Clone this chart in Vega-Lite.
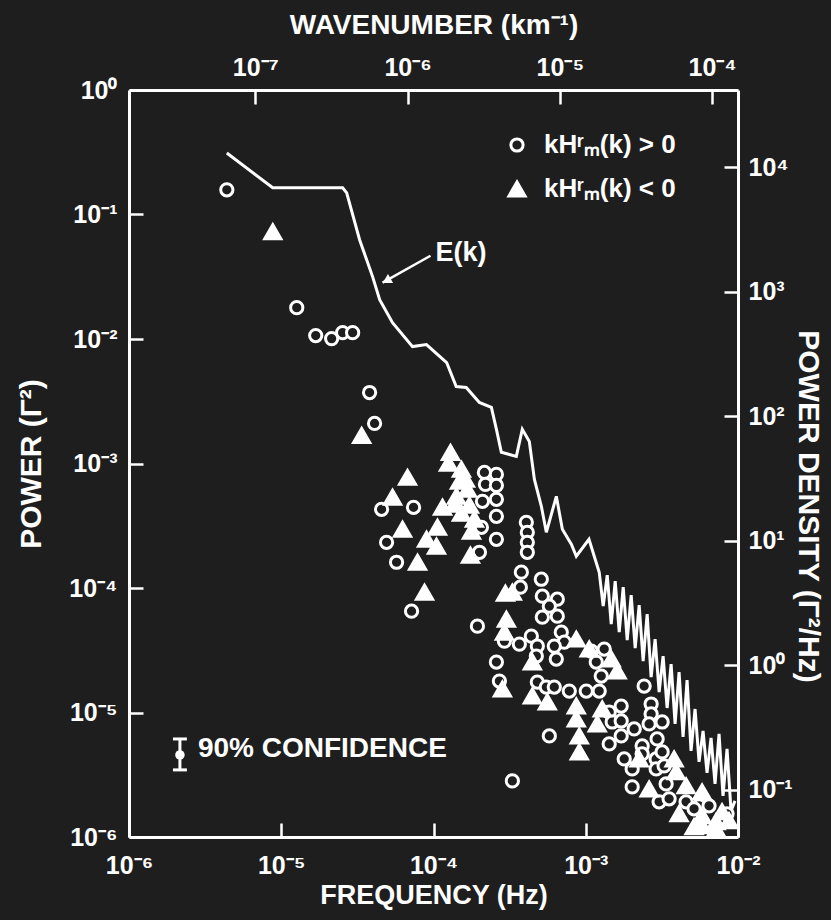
{
  "$schema": "https://vega.github.io/schema/vega-lite/v6.json",
  "width": 609,
  "height": 747,
  "autosize": {"type": "none"},
  "padding": {"left": 129, "top": 90, "right": 93, "bottom": 83},
  "background": "#1e1e1e",
  "config": {
    "view": {"stroke": null},
    "axis": {
      "grid": false,
      "domainColor": "#ffffff",
      "domainWidth": 3,
      "tickColor": "#ffffff",
      "tickWidth": 2.5,
      "tickSize": -14,
      "labelColor": "#ffffff",
      "labelFont": "Liberation Sans",
      "labelFontSize": 25,
      "labelFontWeight": "bold",
      "labelFlush": false,
      "labelOverlap": false,
      "labelBound": false,
      "titleColor": "#ffffff",
      "titleFont": "Liberation Sans",
      "titleFontSize": 27,
      "titleFontWeight": "bold"
    }
  },
  "datasets": {
    "ek": [
      {"f": 4.39e-6, "p": 0.312}, {"f": 8.79e-6, "p": 0.164}, {"f": 2.53e-5, "p": 0.164}, {"f": 2.69e-5, "p": 0.149},
      {"f": 3.27e-5, "p": 0.0627}, {"f": 3.98e-5, "p": 0.0317}, {"f": 4.43e-5, "p": 0.0207}, {"f": 5.38e-5, "p": 0.01354},
      {"f": 7.28e-5, "p": 0.00869}, {"f": 8.99e-5, "p": 0.00902}, {"f": 1.22e-4, "p": 0.00647}, {"f": 1.41e-4, "p": 0.00415},
      {"f": 1.64e-4, "p": 0.00408}, {"f": 2.0e-4, "p": 0.00309}, {"f": 2.4e-4, "p": 0.00282}, {"f": 2.59e-4, "p": 0.00188},
      {"f": 2.79e-4, "p": 0.00123}, {"f": 3.5e-4, "p": 0.00114}, {"f": 3.83e-4, "p": 0.00188}, {"f": 4.26e-4, "p": 0.0015},
      {"f": 4.6e-4, "p": 7.46e-4}, {"f": 5.11e-4, "p": 4.53e-4}, {"f": 5.51e-4, "p": 2.8e-4}, {"f": 6.41e-4, "p": 5.45e-4},
      {"f": 7.02e-4, "p": 2.96e-4}, {"f": 8.04e-4, "p": 2.25e-4}, {"f": 8.67e-4, "p": 1.8e-4}, {"f": 1.05e-3, "p": 2.46e-4},
      {"f": 1.226e-3, "p": 1.339e-4}, {"f": 1.302e-3, "p": 7.145e-5}, {"f": 1.384e-3, "p": 1.267e-4}, {"f": 1.47e-3, "p": 5.125e-5},
      {"f": 1.561e-3, "p": 1.134e-4}, {"f": 1.659e-3, "p": 4.42e-5}, {"f": 1.762e-3, "p": 1.015e-4}, {"f": 1.872e-3, "p": 3.814e-5},
      {"f": 1.988e-3, "p": 8.757e-5}, {"f": 2.112e-3, "p": 3.29e-5}, {"f": 2.243e-3, "p": 7.278e-5}, {"f": 2.382e-3, "p": 2.588e-5},
      {"f": 2.531e-3, "p": 6.164e-5}, {"f": 2.688e-3, "p": 1.926e-5}, {"f": 2.855e-3, "p": 3.885e-5}, {"f": 3.034e-3, "p": 1.46e-5},
      {"f": 3.222e-3, "p": 2.838e-5}, {"f": 3.422e-3, "p": 1.087e-5}, {"f": 3.636e-3, "p": 2.448e-5}, {"f": 3.862e-3, "p": 8.088e-6},
      {"f": 4.102e-3, "p": 2.113e-5}, {"f": 4.357e-3, "p": 6.362e-6}, {"f": 4.629e-3, "p": 1.822e-5}, {"f": 4.917e-3, "p": 4.912e-6},
      {"f": 5.224e-3, "p": 1.067e-5}, {"f": 5.549e-3, "p": 4.009e-6}, {"f": 5.895e-3, "p": 7.106e-6}, {"f": 6.261e-3, "p": 3.272e-6},
      {"f": 6.653e-3, "p": 6.246e-6}, {"f": 7.067e-3, "p": 2.67e-6}, {"f": 7.507e-3, "p": 6.723e-6}, {"f": 7.973e-3, "p": 2.14e-6},
      {"f": 8.472e-3, "p": 5.096e-6}, {"f": 8.999e-3, "p": 1.622e-6}, {"f": 9.557e-3, "p": 1.951e-6}
    ],
    "pts": [
      {"f": 4.391e-6, "p": 0.1578, "s": "pos"}, {"f": 1.264e-5, "p": 0.01786, "s": "pos"}, {"f": 1.684e-5, "p": 0.01065, "s": "pos"},
      {"f": 2.143e-5, "p": 0.01007, "s": "pos"}, {"f": 2.531e-5, "p": 0.01125, "s": "pos"}, {"f": 2.943e-5, "p": 0.01125, "s": "pos"},
      {"f": 3.804e-5, "p": 0.003717, "s": "pos"}, {"f": 4.102e-5, "p": 0.002097, "s": "pos"}, {"f": 4.56e-5, "p": 4.284e-4, "s": "pos"},
      {"f": 7.395e-5, "p": 4.446e-4, "s": "pos"}, {"f": 4.917e-5, "p": 2.329e-4, "s": "pos"}, {"f": 5.72e-5, "p": 1.61e-4, "s": "pos"},
      {"f": 7.174e-5, "p": 6.515e-5, "s": "pos"}, {"f": 2.16e-4, "p": 8.483e-4, "s": "pos"}, {"f": 2.589e-4, "p": 8.177e-4, "s": "pos"},
      {"f": 2.193e-4, "p": 6.798e-4, "s": "pos"}, {"f": 2.589e-4, "p": 6.674e-4, "s": "pos"}, {"f": 2.096e-4, "p": 4.968e-4, "s": "pos"},
      {"f": 2.589e-4, "p": 5.154e-4, "s": "pos"}, {"f": 2.589e-4, "p": 3.765e-4, "s": "pos"}, {"f": 2.064e-4, "p": 3.073e-4, "s": "pos"},
      {"f": 2.589e-4, "p": 2.462e-4, "s": "pos"}, {"f": 2.003e-4, "p": 1.937e-4, "s": "pos"}, {"f": 4.071e-4, "p": 3.371e-4, "s": "pos"},
      {"f": 4.133e-4, "p": 2.802e-4, "s": "pos"}, {"f": 4.133e-4, "p": 2.329e-4, "s": "pos"}, {"f": 4.133e-4, "p": 1.937e-4, "s": "pos"},
      {"f": 3.776e-4, "p": 1.339e-4, "s": "pos"}, {"f": 3.72e-4, "p": 1.015e-4, "s": "pos"}, {"f": 5.107e-4, "p": 1.176e-4, "s": "pos"},
      {"f": 5.185e-4, "p": 8.597e-5, "s": "pos"}, {"f": 6.503e-4, "p": 8.132e-5, "s": "pos"}, {"f": 5.764e-4, "p": 7.145e-5, "s": "pos"},
      {"f": 5.185e-4, "p": 5.833e-5, "s": "pos"}, {"f": 6.503e-4, "p": 5.942e-5, "s": "pos"}, {"f": 1.943e-4, "p": 4.94e-5, "s": "pos"},
      {"f": 2.922e-4, "p": 3.744e-5, "s": "pos"}, {"f": 3.664e-4, "p": 3.542e-5, "s": "pos"}, {"f": 4.391e-4, "p": 4.106e-5, "s": "pos"},
      {"f": 4.808e-4, "p": 3.414e-5, "s": "pos"}, {"f": 4.736e-4, "p": 2.838e-5, "s": "pos"}, {"f": 2.709e-4, "p": 1.789e-5, "s": "pos"},
      {"f": 2.589e-4, "p": 2.541e-5, "s": "pos"}, {"f": 6.907e-4, "p": 4.42e-5, "s": "pos"}, {"f": 7.228e-4, "p": 3.676e-5, "s": "pos"},
      {"f": 6.214e-4, "p": 3.414e-5, "s": "pos"}, {"f": 6.406e-4, "p": 2.685e-5, "s": "pos"}, {"f": 1.087e-3, "p": 3.113e-5, "s": "pos"},
      {"f": 1.322e-3, "p": 3.23e-5, "s": "pos"}, {"f": 1.172e-3, "p": 2.541e-5, "s": "pos"}, {"f": 1.008e-3, "p": 1.487e-5, "s": "pos"},
      {"f": 1.226e-3, "p": 1.487e-5, "s": "pos"}, {"f": 1.264e-3, "p": 1.962e-5, "s": "pos"}, {"f": 4.808e-4, "p": 1.756e-5, "s": "pos"},
      {"f": 5.508e-4, "p": 1.601e-5, "s": "pos"}, {"f": 6.214e-4, "p": 1.601e-5, "s": "pos"}, {"f": 7.796e-4, "p": 1.487e-5, "s": "pos"},
      {"f": 5.764e-4, "p": 6.48e-6, "s": "pos"}, {"f": 3.296e-4, "p": 2.823e-6, "s": "pos"}, {"f": 2.418e-3, "p": 1.631e-5, "s": "pos"},
      {"f": 1.709e-3, "p": 1.127e-5, "s": "pos"}, {"f": 1.426e-3, "p": 1.009e-5, "s": "pos"}, {"f": 1.492e-3, "p": 8.391e-6, "s": "pos"},
      {"f": 1.709e-3, "p": 8.547e-6, "s": "pos"}, {"f": 1.426e-3, "p": 5.589e-6, "s": "pos"}, {"f": 1.709e-3, "p": 6.48e-6, "s": "pos"},
      {"f": 1.789e-3, "p": 4.238e-6, "s": "pos"}, {"f": 2.08e-3, "p": 7.373e-6, "s": "pos"}, {"f": 2.347e-3, "p": 5.387e-6, "s": "pos"},
      {"f": 2.688e-3, "p": 1.17e-5, "s": "pos"}, {"f": 2.688e-3, "p": 9.727e-6, "s": "pos"}, {"f": 2.608e-3, "p": 8.088e-6, "s": "pos"},
      {"f": 3.174e-3, "p": 8.391e-6, "s": "pos"}, {"f": 2.943e-3, "p": 6.13e-6, "s": "pos"}, {"f": 2.9e-3, "p": 4.238e-6, "s": "pos"},
      {"f": 3.174e-3, "p": 4.823e-6, "s": "pos"}, {"f": 2.018e-3, "p": 3.523e-6, "s": "pos"}, {"f": 2.9e-3, "p": 3.523e-6, "s": "pos"},
      {"f": 2.018e-3, "p": 2.527e-6, "s": "pos"}, {"f": 3.373e-3, "p": 2.67e-6, "s": "pos"}, {"f": 3.034e-3, "p": 1.916e-6, "s": "pos"},
      {"f": 3.528e-3, "p": 2.025e-6, "s": "pos"}, {"f": 4.56e-3, "p": 1.916e-6, "s": "pos"}, {"f": 5.549e-3, "p": 1.779e-6, "s": "pos"},
      {"f": 6.454e-3, "p": 1.779e-6, "s": "pos"}, {"f": 5.146e-3, "p": 1.683e-6, "s": "pos"}, {"f": 8.472e-3, "p": 1.535e-6, "s": "pos"},
      {"f": 3.272e-3, "p": 3.724e-6, "s": "pos"}, {"f": 2.347e-3, "p": 4.648e-6, "s": "pos"},
      {"f": 8.798e-6, "p": 0.07265, "s": "neg"}, {"f": 3.373e-5, "p": 1.68e-3, "s": "neg"}, {"f": 6.751e-5, "p": 7.737e-4, "s": "neg"},
      {"f": 5.383e-5, "p": 5.349e-4, "s": "neg"}, {"f": 1.146e-4, "p": 4.446e-4, "s": "neg"}, {"f": 6.261e-5, "p": 2.961e-4, "s": "neg"},
      {"f": 8.999e-5, "p": 2.462e-4, "s": "neg"}, {"f": 1.062e-4, "p": 3.073e-4, "s": "neg"}, {"f": 1.046e-4, "p": 2.163e-4, "s": "neg"},
      {"f": 7.856e-5, "p": 1.61e-4, "s": "neg"}, {"f": 8.73e-5, "p": 9.254e-5, "s": "neg"}, {"f": 1.293e-4, "p": 1.227e-3, "s": "neg"},
      {"f": 1.254e-4, "p": 1.002e-3, "s": "neg"}, {"f": 1.526e-4, "p": 8.968e-4, "s": "neg"}, {"f": 1.481e-4, "p": 7.187e-4, "s": "neg"},
      {"f": 1.671e-4, "p": 6.197e-4, "s": "neg"}, {"f": 1.415e-4, "p": 5.446e-4, "s": "neg"}, {"f": 1.722e-4, "p": 4.613e-4, "s": "neg"},
      {"f": 1.526e-4, "p": 3.979e-4, "s": "neg"}, {"f": 1.775e-4, "p": 2.853e-4, "s": "neg"}, {"f": 1.748e-4, "p": 1.832e-4, "s": "neg"},
      {"f": 1.621e-4, "p": 7.455e-4, "s": "neg"}, {"f": 1.858e-4, "p": 3.562e-4, "s": "neg"}, {"f": 1.373e-4, "p": 4.699e-4, "s": "neg"},
      {"f": 3.296e-4, "p": 9.254e-5, "s": "neg"}, {"f": 2.966e-4, "p": 9.085e-5, "s": "neg"}, {"f": 3.011e-4, "p": 5.621e-5, "s": "neg"},
      {"f": 2.922e-4, "p": 4.42e-5, "s": "neg"}, {"f": 4.459e-4, "p": 2.541e-5, "s": "neg"}, {"f": 2.835e-4, "p": 1.543e-5, "s": "neg"},
      {"f": 8.663e-4, "p": 3.885e-5, "s": "neg"}, {"f": 1.054e-3, "p": 3.23e-5, "s": "neg"}, {"f": 1.47e-3, "p": 2.685e-5, "s": "neg"},
      {"f": 1.609e-3, "p": 2.151e-5, "s": "neg"}, {"f": 4.459e-4, "p": 1.356e-5, "s": "neg"}, {"f": 5.591e-4, "p": 1.214e-5, "s": "neg"},
      {"f": 8.663e-4, "p": 1.127e-5, "s": "neg"}, {"f": 8.663e-4, "p": 8.869e-6, "s": "neg"}, {"f": 9.067e-4, "p": 6.48e-6, "s": "neg"},
      {"f": 9.067e-4, "p": 4.823e-6, "s": "neg"}, {"f": 3.92e-3, "p": 3.334e-6, "s": "neg"}, {"f": 4.56e-3, "p": 2.574e-6, "s": "neg"},
      {"f": 5.807e-3, "p": 2.304e-6, "s": "neg"}, {"f": 5.807e-3, "p": 1.479e-6, "s": "neg"}, {"f": 7.174e-3, "p": 1.324e-6, "s": "neg"},
      {"f": 7.856e-3, "p": 1.593e-6, "s": "neg"}, {"f": 5.807e-3, "p": 1.229e-6, "s": "neg"}, {"f": 7.174e-3, "p": 1.164e-6, "s": "neg"},
      {"f": 1.283e-3, "p": 1.067e-5, "s": "neg"}, {"f": 1.19e-3, "p": 8.088e-6, "s": "neg"}, {"f": 2.243e-3, "p": 4.238e-6, "s": "neg"},
      {"f": 3.804e-3, "p": 4.238e-6, "s": "neg"}, {"f": 2.608e-3, "p": 2.434e-6, "s": "neg"}, {"f": 4.102e-3, "p": 1.535e-6, "s": "neg"},
      {"f": 5.146e-3, "p": 1.207e-6, "s": "neg"}, {"f": 8.73e-3, "p": 1.349e-6, "s": "neg"}
    ]
  },
  "layer": [
    {
      "encoding": {
        "x": {
          "field": "f", "type": "quantitative",
          "scale": {"type": "log", "domain": [1e-6, 1e-2], "nice": false},
          "axis": {
            "orient": "bottom",
            "values": [1e-6, 1e-5, 1e-4, 1e-3, 1e-2],
            "labelExpr": "'10' + replace(replace(replace(replace(replace(replace(replace(replace(replace('' + round(log(datum.value)/LN10), '-', '⁻'), '0', '⁰'), '1', '¹'), '2', '²'), '3', '³'), '4', '⁴'), '5', '⁵'), '6', '⁶'), '7', '⁷')",
            "title": "FREQUENCY (Hz)",
            "labelPadding": 30,
            "titlePadding": 4
          }
        },
        "y": {
          "field": "p", "type": "quantitative",
          "scale": {"type": "log", "domain": [1e-6, 1], "nice": false},
          "axis": {
            "orient": "left",
            "values": [1e-6, 1e-5, 1e-4, 1e-3, 1e-2, 1e-1, 1],
            "labelExpr": "'10' + replace(replace(replace(replace(replace(replace(replace(replace(replace('' + round(log(datum.value)/LN10), '-', '⁻'), '0', '⁰'), '1', '¹'), '2', '²'), '3', '³'), '4', '⁴'), '5', '⁵'), '6', '⁶'), '7', '⁷')",
            "title": "POWER (Γ²)",
            "titleFontSize": 30,
            "labelPadding": 26,
            "titlePadding": 22
          }
        }
      },
      "layer": [
        {
          "data": {"name": "ek"},
          "mark": {"type": "line", "color": "#ffffff", "strokeWidth": 3, "strokeJoin": "miter"}
        },
        {
          "data": {"name": "pts"},
          "mark": {"type": "point", "filled": true, "stroke": "#ffffff", "strokeWidth": 3, "opacity": 1},
          "encoding": {
            "shape": {"field": "s", "type": "nominal", "scale": {"domain": ["pos", "neg"], "range": ["circle", "triangle-up"]},
              "legend": {
                "orient": "none", "legendX": 375, "legendY": 42, "title": null, "padding": 0,
                "labelExpr": "datum.value == 'pos' ? 'kHʳₘ(k) > 0' : 'kHʳₘ(k) < 0'",
                "labelColor": "#ffffff", "labelFont": "Liberation Sans", "labelFontSize": 26, "labelFontWeight": "bold",
                "symbolStrokeColor": "#ffffff", "symbolStrokeWidth": 3, "rowPadding": 18, "labelOffset": 14
              }},
            "fill": {"field": "s", "type": "nominal", "scale": {"domain": ["pos", "neg"], "range": ["#1e1e1e", "#ffffff"]}},
            "size": {"field": "s", "type": "ordinal", "scale": {"domain": ["pos", "neg"], "range": [150, 260]}}
          }
        },
        {
          "data": {"values": [{"f": 2.16e-6, "p": 6.13e-6, "p2": 3.459e-6}]},
          "mark": {"type": "rule", "color": "#ffffff", "strokeWidth": 3},
          "encoding": {"y2": {"field": "p2"}}
        },
        {
          "data": {"values": [{"f": 1.944e-6, "f2": 2.4e-6, "p": 6.13e-6}, {"f": 1.944e-6, "f2": 2.4e-6, "p": 3.459e-6}]},
          "mark": {"type": "rule", "color": "#ffffff", "strokeWidth": 3},
          "encoding": {"x2": {"field": "f2"}}
        },
        {
          "data": {"values": [{"f": 2.16e-6, "p": 4.563e-6}]},
          "mark": {"type": "point", "shape": "circle", "filled": true, "color": "#ffffff", "size": 90, "opacity": 1}
        },
        {
          "data": {"values": [{"f": 2.835e-6, "p": 5.096e-6, "t": "90% CONFIDENCE"}]},
          "mark": {"type": "text", "align": "left", "baseline": "middle", "color": "#ffffff", "font": "Liberation Sans", "fontSize": 28, "fontWeight": "bold"},
          "encoding": {"text": {"field": "t"}}
        },
        {
          "data": {"values": [{"f": 1.03e-4, "p": 0.0493, "t": "E(k)"}]},
          "mark": {"type": "text", "align": "left", "baseline": "middle", "color": "#ffffff", "font": "Liberation Sans", "fontSize": 27, "fontWeight": "bold"},
          "encoding": {"text": {"field": "t"}}
        },
        {
          "data": {"values": [{"f": 9.557e-5, "p": 0.04664}, {"f": 4.629e-5, "p": 0.02834}]},
          "mark": {"type": "line", "color": "#ffffff", "strokeWidth": 2.5},
          "encoding": {}
        },
        {
          "data": {"values": [{"f": 4.917e-5, "p": 0.0294}]},
          "mark": {"type": "point", "shape": "triangle-up", "angle": 241, "filled": true, "color": "#ffffff", "size": 110, "opacity": 1}
        }
      ]
    },
    {
      "data": {"values": [{"k": 1.4791e-8, "pd": 0.0416869}, {"k": 1.4791e-4, "pd": 41686.9}]},
      "mark": {"type": "point", "opacity": 0},
      "encoding": {
        "x": {
          "field": "k", "type": "quantitative",
          "scale": {"type": "log", "domain": [1.4791e-8, 1.4791e-4], "nice": false},
          "axis": {
            "orient": "top",
            "values": [1e-7, 1e-6, 1e-5, 1e-4],
            "labelExpr": "'10' + replace(replace(replace(replace(replace(replace(replace(replace(replace('' + round(log(datum.value)/LN10), '-', '⁻'), '0', '⁰'), '1', '¹'), '2', '²'), '3', '³'), '4', '⁴'), '5', '⁵'), '6', '⁶'), '7', '⁷')",
            "title": "WAVENUMBER (km⁻¹)",
            "titleFontSize": 28,
            "labelPadding": 24,
            "titlePadding": 16
          }
        },
        "y": {
          "field": "pd", "type": "quantitative",
          "scale": {"type": "log", "domain": [0.0416869, 41686.9], "nice": false},
          "axis": {
            "orient": "right",
            "values": [0.1, 1, 10, 100, 1000, 10000],
            "labelExpr": "'10' + replace(replace(replace(replace(replace(replace(replace(replace(replace('' + round(log(datum.value)/LN10), '-', '⁻'), '0', '⁰'), '1', '¹'), '2', '²'), '3', '³'), '4', '⁴'), '5', '⁵'), '6', '⁶'), '7', '⁷')",
            "title": "POWER DENSITY (Γ²/Hz)",
            "titleFontSize": 30,
            "labelPadding": 24,
            "titlePadding": 0,
            "titleY": 416
          }
        }
      }
    }
  ],
  "resolve": {"scale": {"x": "independent", "y": "independent"}, "axis": {"x": "independent", "y": "independent"}}
}
